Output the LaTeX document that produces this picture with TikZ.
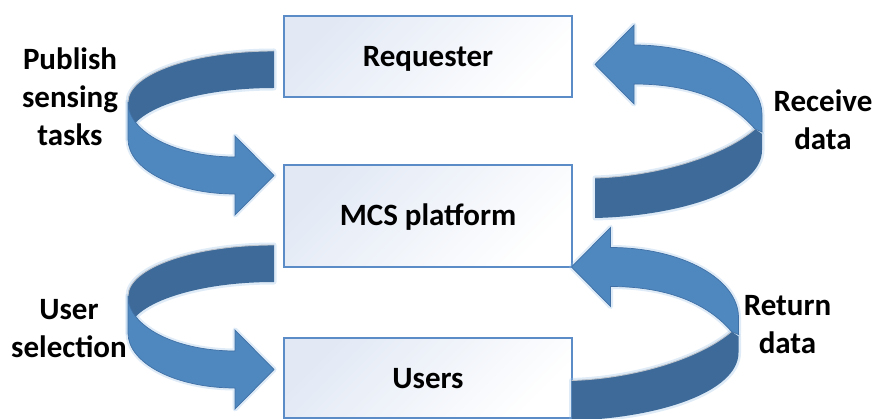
\documentclass[tikz,border=0pt]{standalone}
\usepackage{fontspec}
\setmainfont{Carlito}

\definecolor{boxline}{RGB}{91,140,200}
\definecolor{boxtint}{RGB}{226,233,245}
\definecolor{darkface}{RGB}{61,106,152}
\definecolor{lightface}{RGB}{79,136,191}
\definecolor{edgeblue}{RGB}{64,112,165}
\definecolor{glowblue}{RGB}{150,190,230}
\definecolor{rimgray}{RGB}{190,196,204}

\newcommand{\labelfont}{\fontsize{31}{38}\selectfont\bfseries}

% Turning arrow on the left side: back face (inner side of the ribbon)
% and front face ending in the arrow head.
\newcommand{\LTback}{(274,51) .. controls (193.4,51) and (128,73.8) .. (128,102)
  -- (128,139) .. controls (128,110.8) and (193.4,88) .. (274,88) -- cycle}
\newcommand{\LTfront}{(128,102) -- (128,139) .. controls (128,169.4) and (175.9,194) .. (235,194)
  -- (235,215) -- (274,175.5) -- (235,136) -- (235,157)
  .. controls (175.9,157) and (128,132.4) .. (128,102) -- cycle}
\newcommand{\LTrim}{(274,51) .. controls (193.4,51) and (128,73.8) .. (128,102)}

% Turning arrow on the right side
\newcommand{\RTback}{(595,178) .. controls (660,176) and (725,155) .. (755,129)
  -- (762,134) -- (762,150) .. controls (762,190) and (680,216) .. (595,218) -- cycle}
\newcommand{\RTfront}{(595,64.5) -- (634,25) -- (634,45)
  .. controls (704.7,45) and (762,76.3) .. (762,115) -- (762,132) -- (755,129)
  .. controls (730,100) and (690,84) .. (634,84) -- (634,104) -- cycle}
\newcommand{\RTrim}{(595,178) .. controls (660,176) and (725,155) .. (755,129)}

\newcommand{\drawturn}[3]{%
  \path[glow] #1;
  \path[glow] #2;
  \path[backface] #1;
  \path[rim] #3;
  \path[frontface] #2;
}

\begin{document}
\begin{tikzpicture}[x=1pt,y=-1pt,
  panel/.style={draw=boxline, line width=1.5pt, top color=boxtint, bottom color=white,
    shading angle=45, minimum width=288pt, inner sep=0pt, font=\labelfont,
    text height=23pt, text depth=3pt},
  caption/.style={font=\labelfont, align=center, anchor=base, inner sep=0pt},
  glow/.style={draw=glowblue, line width=5pt, opacity=0.3, line join=round},
  backface/.style={fill=darkface},
  frontface/.style={fill=lightface, draw=edgeblue, line width=0.7pt, line join=miter},
  rim/.style={draw=rimgray, line width=0.9pt}]

\useasboundingbox (0,0) rectangle (877,419);
\fill[white] (0,0) rectangle (877,419);

% The three actors
\node[panel, minimum height=81pt]  (req)   at (428,56.5) {Requester};
\node[panel, minimum height=102pt] (mcs)   at (428,216)  {MCS platform};
\node[panel, minimum height=80pt]  (users) at (428,378)  {Users};

% Curved flow arrows
\drawturn{\LTback}{\LTfront}{\LTrim}
\begin{scope}[shift={(0,194)}]
  \drawturn{\LTback}{\LTfront}{\LTrim}
\end{scope}
\drawturn{\RTback}{\RTfront}{\RTrim}
\begin{scope}[shift={(-23.5,202.5)}]
  \drawturn{\RTback}{\RTfront}{\RTrim}
\end{scope}

% Flow captions (anchored on the baseline of their last line)
\node[caption] (publish) at (70,146)    {Publish\\sensing\\tasks};
\node[caption] (receive) at (823,150)   {Receive\\data};
\node[caption] (select)  at (69,357)    {User\\selection};
\node[caption] (return)  at (787.5,353) {Return\\data};
\end{tikzpicture}
\end{document}
